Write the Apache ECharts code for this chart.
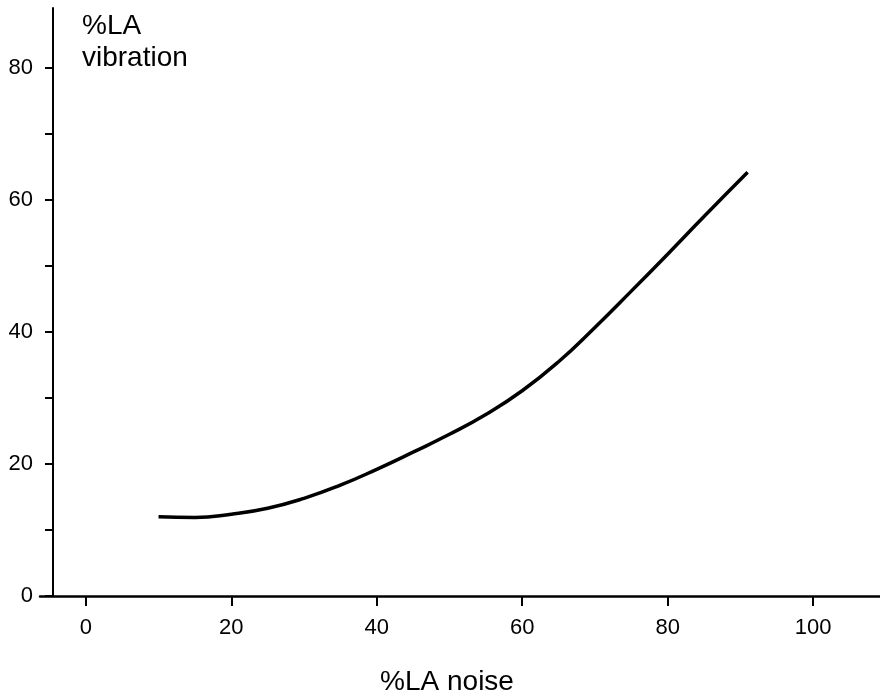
<!DOCTYPE html>
<html>
<head>
<meta charset="utf-8">
<script src="https://cdn.jsdelivr.net/npm/echarts@6/dist/echarts.min.js"></script>
<style>
  html, body { margin: 0; padding: 0; background: #fff; }
  #chart { width: 880px; height: 699px; }
</style>
</head>
<body>
<div id="chart"></div>
<script>
// Noise level (%LA) along the curve and matching vibration level (%LA)
const noisePct = [10, 15, 20, 25, 30, 35, 40, 45, 50, 55, 60, 65, 70, 75, 80, 85, 91];
const vibrationPct = [12.0, 11.9, 12.4, 13.3, 14.8, 16.8, 19.2, 21.8, 24.5, 27.5, 31.1, 35.5, 40.7, 46.2, 51.8, 57.5, 64.2];

// Axis ticks and labels
const xTicks = [0, 20, 40, 60, 80, 100];
const yTicks = [0, 10, 20, 30, 40, 50, 60, 70, 80];
const yLabels = [0, 20, 40, 60, 80];

const xTitle = '%LA noise';
const yTitle = '%LA\nvibration';

const FONT = '"Liberation Sans", Arial, Helvetica, sans-serif';

const chart = echarts.init(document.getElementById('chart'), null, { renderer: 'canvas' });

chart.setOption({
  backgroundColor: '#ffffff',
  animation: false,
  title: {
    text: yTitle,
    left: 82,
    top: 10,
    padding: 0,
    textStyle: {
      fontFamily: FONT,
      fontSize: 28,
      fontWeight: 'normal',
      color: '#000',
      lineHeight: 32
    }
  },
  grid: {
    left: 40, right: 0, top: 8, bottom: 103,
    containLabel: false,
    outerBoundsMode: 'none'
  },
  xAxis: {
    type: 'value',
    min: -6.3,
    max: 109.2,
    name: xTitle,
    nameLocation: 'middle',
    nameGap: 72,
    nameTextStyle: {
      fontFamily: FONT,
      fontSize: 28,
      color: '#000',
      padding: [0, 26, 0, 0]
    },
    axisLine: { show: true, onZero: false, lineStyle: { color: '#000', width: 2.5 } },
    axisTick: {
      show: true,
      inside: false,
      length: 10,
      customValues: xTicks,
      lineStyle: { color: '#000', width: 2 }
    },
    axisLabel: {
      show: true,
      customValues: xTicks,
      margin: 21,
      fontFamily: FONT,
      fontSize: 22,
      color: '#000'
    },
    splitLine: { show: false }
  },
  yAxis: {
    type: 'value',
    min: 0,
    max: 89.1,
    offset: -13,
    axisLine: { show: true, onZero: false, lineStyle: { color: '#000', width: 2 } },
    axisTick: {
      show: true,
      inside: false,
      length: 8,
      customValues: yTicks,
      lineStyle: { color: '#000', width: 2 }
    },
    axisLabel: {
      show: true,
      customValues: yLabels,
      margin: 20,
      fontFamily: FONT,
      fontSize: 22,
      color: '#000'
    },
    splitLine: { show: false }
  },
  series: [{
    type: 'line',
    data: noisePct.map((x, i) => [x, vibrationPct[i]]),
    smooth: 0.5,
    showSymbol: false,
    lineStyle: { color: '#000', width: 3.5, cap: 'butt' },
    silent: true
  }]
});
</script>
</body>
</html>
